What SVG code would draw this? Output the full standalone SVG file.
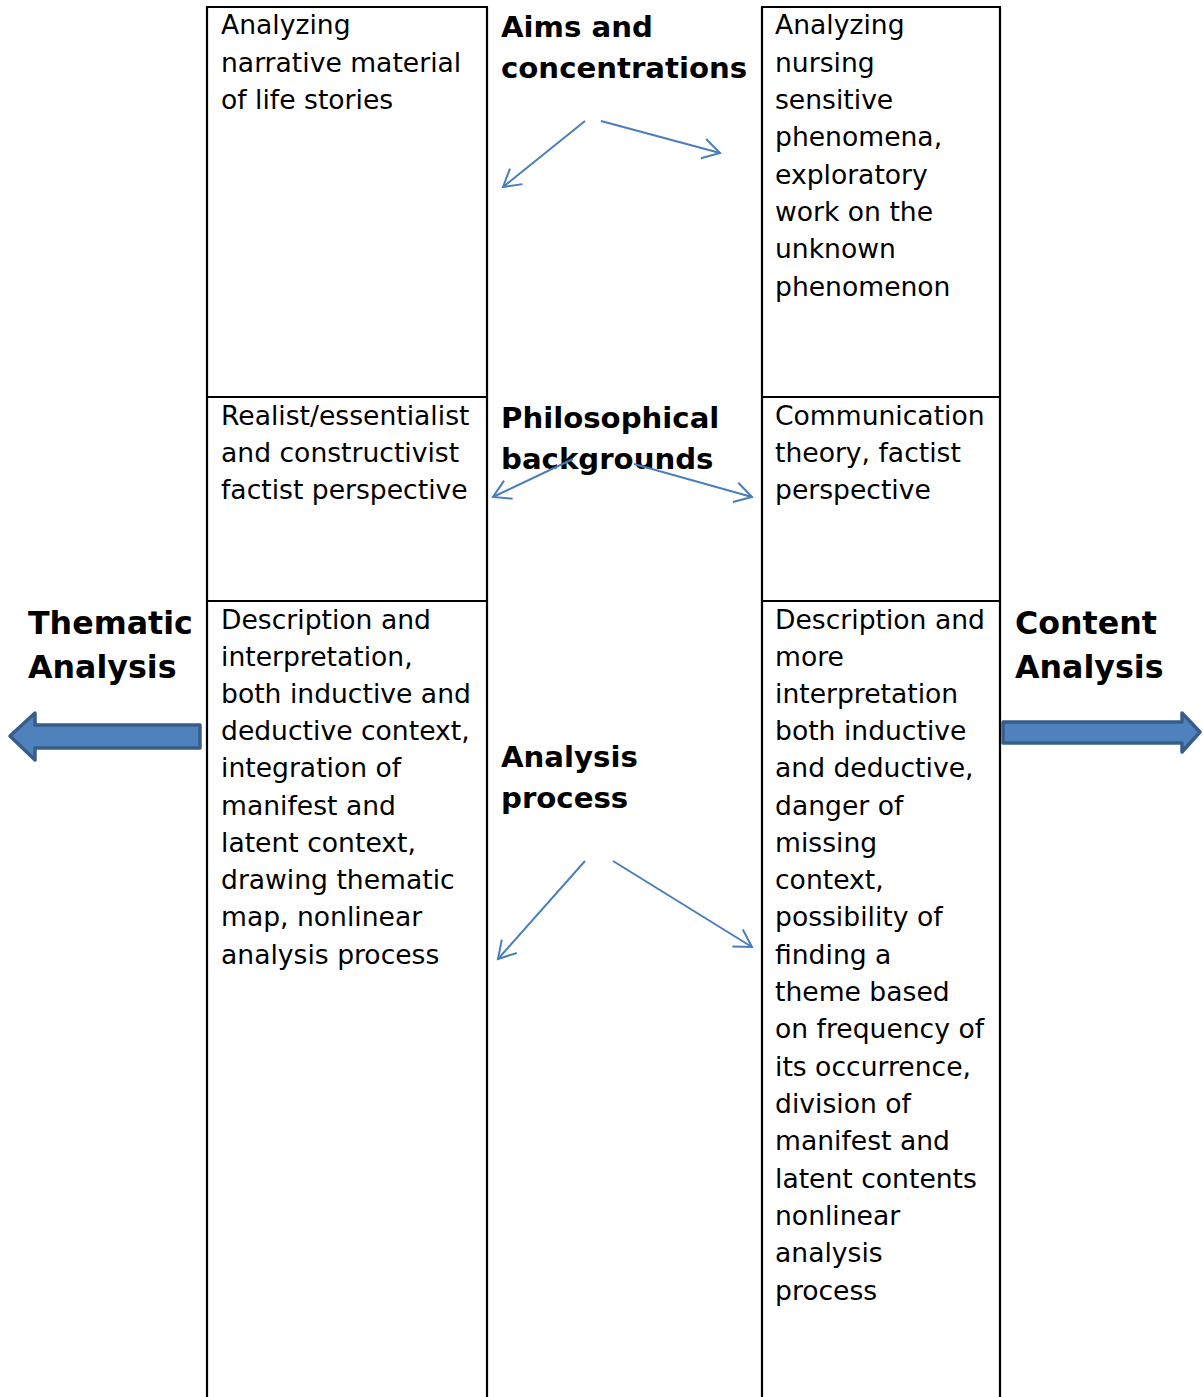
<svg xmlns="http://www.w3.org/2000/svg" width="1203" height="1397" viewBox="0 0 1203 1397">
  <style>
    .body { font-family: "DejaVu Sans", Verdana, sans-serif; font-size: 26.6px; fill: #000; }
    .head { font-family: "DejaVu Sans", Verdana, sans-serif; font-size: 29.2px; font-weight: bold; fill: #000; }
    .side { font-family: "DejaVu Sans", Verdana, sans-serif; font-size: 31.7px; font-weight: bold; fill: #000; }
    .rule { stroke: #000; stroke-width: 2.2; fill: none; }
    .link { stroke: #4a7ebb; stroke-width: 2; fill: none; marker-end: url(#open); }
    .block { fill: #4f81bd; stroke: #385d8a; stroke-width: 3.5; stroke-linejoin: round; }
  </style>
  <defs>
    <marker id="open" markerUnits="userSpaceOnUse" markerWidth="24" markerHeight="24" viewBox="-20 -12 22 24" refX="0" refY="0" orient="auto">
      <path d="M-17,-10 L0,0 L-17,10" fill="none" stroke="#4a7ebb" stroke-width="2"/>
    </marker>
  </defs>
  <rect width="1203" height="1397" fill="#fff"/>

  <!-- table frame -->
  <g id="frame">
    <line class="rule" x1="207" y1="7" x2="207" y2="1397"/>
    <line class="rule" x1="487" y1="7" x2="487" y2="1397"/>
    <line class="rule" x1="762" y1="7" x2="762" y2="1397"/>
    <line class="rule" x1="1000" y1="7" x2="1000" y2="1397"/>
    <line class="rule" x1="206" y1="7" x2="488" y2="7"/>
    <line class="rule" x1="761" y1="7" x2="1001" y2="7"/>
    <line class="rule" x1="206" y1="397" x2="488" y2="397"/>
    <line class="rule" x1="761" y1="397" x2="1001" y2="397"/>
    <line class="rule" x1="206" y1="601" x2="488" y2="601"/>
    <line class="rule" x1="761" y1="601" x2="1001" y2="601"/>
  </g>

  <!-- left column: thematic analysis -->
  <g id="ta-aims">
    <text class="body" x="221" y="34">Analyzing</text>
    <text class="body" x="221" y="72">narrative material</text>
    <text class="body" x="221" y="109">of life stories</text>
  </g>
  <g id="ta-philosophy">
    <text class="body" x="221" y="425">Realist/essentialist</text>
    <text class="body" x="221" y="462">and constructivist</text>
    <text class="body" x="221" y="499">factist perspective</text>
  </g>
  <g id="ta-process">
    <text class="body" x="221" y="629">Description and</text>
    <text class="body" x="221" y="666">interpretation,</text>
    <text class="body" x="221" y="703">both inductive and</text>
    <text class="body" x="221" y="740">deductive context,</text>
    <text class="body" x="221" y="777">integration of</text>
    <text class="body" x="221" y="815">manifest and</text>
    <text class="body" x="221" y="852">latent context,</text>
    <text class="body" x="221" y="889">drawing thematic</text>
    <text class="body" x="221" y="926">map, nonlinear</text>
    <text class="body" x="221" y="964">analysis process</text>
  </g>

  <!-- middle column: headings -->
  <g id="aims">
    <text class="head" x="501" y="37">Aims and</text>
    <text class="head" x="501" y="78">concentrations</text>
  </g>
  <g id="philosophy">
    <text class="head" x="501" y="428">Philosophical</text>
    <text class="head" x="501" y="469">backgrounds</text>
  </g>
  <g id="process">
    <text class="head" x="501" y="767">Analysis</text>
    <text class="head" x="501" y="808">process</text>
  </g>

  <!-- right column: content analysis -->
  <g id="ca-aims">
    <text class="body" x="775" y="34">Analyzing</text>
    <text class="body" x="775" y="72">nursing</text>
    <text class="body" x="775" y="109">sensitive</text>
    <text class="body" x="775" y="146">phenomena,</text>
    <text class="body" x="775" y="184">exploratory</text>
    <text class="body" x="775" y="221">work on the</text>
    <text class="body" x="775" y="258">unknown</text>
    <text class="body" x="775" y="296">phenomenon</text>
  </g>
  <g id="ca-philosophy">
    <text class="body" x="775" y="425">Communication</text>
    <text class="body" x="775" y="462">theory, factist</text>
    <text class="body" x="775" y="499">perspective</text>
  </g>
  <g id="ca-process">
    <text class="body" x="775" y="629">Description and</text>
    <text class="body" x="775" y="666">more</text>
    <text class="body" x="775" y="703">interpretation</text>
    <text class="body" x="775" y="740">both inductive</text>
    <text class="body" x="775" y="777">and deductive,</text>
    <text class="body" x="775" y="815">danger of</text>
    <text class="body" x="775" y="852">missing</text>
    <text class="body" x="775" y="889">context,</text>
    <text class="body" x="775" y="926">possibility of</text>
    <text class="body" x="775" y="964">finding a</text>
    <text class="body" x="775" y="1001">theme based</text>
    <text class="body" x="775" y="1038">on frequency of</text>
    <text class="body" x="775" y="1076">its occurrence,</text>
    <text class="body" x="775" y="1113">division of</text>
    <text class="body" x="775" y="1150">manifest and</text>
    <text class="body" x="775" y="1188">latent contents</text>
    <text class="body" x="775" y="1225">nonlinear</text>
    <text class="body" x="775" y="1262">analysis</text>
    <text class="body" x="775" y="1300">process</text>
  </g>

  <!-- side labels with block arrows -->
  <g id="thematic">
    <text class="side" x="28" y="634">Thematic</text>
    <text class="side" x="28" y="678">Analysis</text>
    <path class="block" d="M200,725 L35,725 L35,713 L10,736 L35,760 L35,748 L200,748 Z"/>
  </g>
  <g id="content">
    <text class="side" x="1015" y="634">Content</text>
    <text class="side" x="1015" y="678">Analysis</text>
    <path class="block" d="M1003,722 L1182,722 L1182,713 L1200,732 L1182,752 L1182,743 L1003,743 Z"/>
  </g>

  <!-- connectors -->
  <g id="connectors">
    <line class="link" x1="585" y1="121" x2="503" y2="187"/>
    <line class="link" x1="601" y1="121" x2="720" y2="153"/>
    <line class="link" x1="573" y1="459" x2="493" y2="497"/>
    <line class="link" x1="634" y1="464" x2="752" y2="497"/>
    <line class="link" x1="585" y1="861" x2="498" y2="959"/>
    <line class="link" x1="613" y1="861" x2="752" y2="947"/>
  </g>
</svg>
